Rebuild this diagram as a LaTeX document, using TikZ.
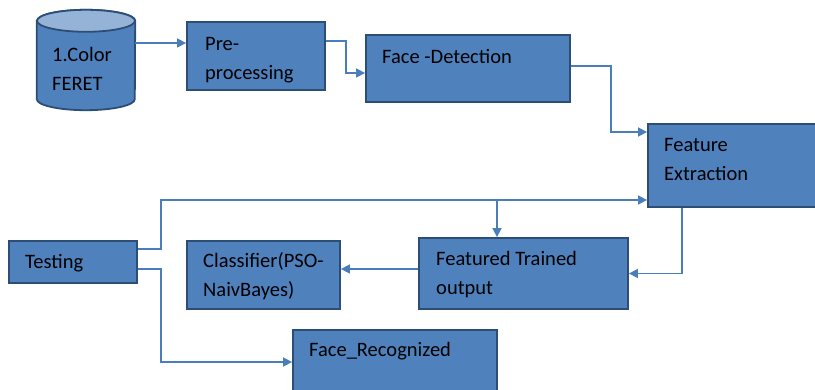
\documentclass[tikz,border=0pt]{standalone}
\usepackage{fontspec}
\setmainfont{Carlito}
\usetikzlibrary{arrows.meta}
\definecolor{boxblue}{HTML}{4F81BD}
\definecolor{boxedge}{HTML}{2C4D75}
\definecolor{lineblue}{HTML}{4A7EBB}
\definecolor{topblue}{HTML}{95B3D7}

\begin{document}
\begin{tikzpicture}[x=1pt, y=-1pt,
	block/.style={draw=boxedge, fill=boxblue, line width=1.8pt, rectangle, inner sep=0pt},
	txt/.style={anchor=base west, inner sep=0pt, align=left, font=\fontsize{20.5}{29}\selectfont},
	conn/.style={draw=lineblue, line width=1.5pt, -{Triangle[length=9pt,width=9pt]}}]
	\clip (0,0) rectangle (815,390);
	% database cylinder
	\node (db) [minimum width=98pt, minimum height=100pt, inner sep=0pt] at (86,60) {};
	\draw[boxedge, line width=1.8pt, fill=boxblue] ([yshift=-11pt]db.north west)
		-- ([yshift=11pt]db.south west) arc[start angle=180, end angle=360, x radius=49pt, y radius=11pt]
		-- ([yshift=-11pt]db.north east) arc[start angle=0, end angle=180, x radius=49pt, y radius=11pt] -- cycle;
	\draw[boxedge, line width=1.8pt, fill=topblue] ([yshift=-11pt]db.north) ellipse[x radius=49pt, y radius=11pt];
	\node (pre)     [block, minimum width=138pt, minimum height=68pt] at (256,56) {};
	\node (det)     [block, minimum width=204pt, minimum height=67pt] at (468,68.5) {};
	\node (feat)    [block, minimum width=240pt, minimum height=83pt] at (768,165.5) {};
	\node (trained) [block, minimum width=209pt, minimum height=71pt] at (523.5,273.5) {};
	\node (cls)     [block, minimum width=153pt, minimum height=68pt] at (263.5,275) {};
	\node (test)    [block, minimum width=128pt, minimum height=42pt] at (73,262) {};
	\node (rec)     [block, minimum width=204pt, minimum height=70pt] at (395,365) {};
	% labels
	\node (db-t)      [txt] at (52,91)  {1.Color\\FERET};
	\node (pre-t)     [txt] at (205,80) {Pre-\\processing};
	\node (det-t)     [txt] at (382,64) {Face -Detection};
	\node (feat-t)    [txt] at (664,181) {Feature\\Extraction};
	\node (trained-t) [txt] at (436,295) {Featured Trained\\output};
	\node (cls-t)     [txt] at (203,297) {Classifier(PSO-\\NaivBayes)};
	\node (test-t)    [txt] at (25,269) {Testing};
	\node (rec-t)     [txt] at (309,357) {Face\_Recognized};
	% connectors
	\draw[conn] ([yshift=17pt]db.east) coordinate (a1) -- (a1 -| pre.west);
	\draw[conn] ([yshift=15pt]pre.east) -- ++(20,0) |- ([yshift=-4.5pt]det.west);
	\draw[conn] ([yshift=2.5pt]det.east) -- ++(40,0) |- ([yshift=33.5pt]feat.west);
	\draw[conn] ([xshift=35pt]feat.south west) |- (trained.east);
	\draw[conn] ([yshift=4.5pt]trained.west) coordinate (b1) -- (b1 -| cls.east);
	\draw[conn] ([yshift=13pt]test.east) -- ++(23,0) |- ([yshift=-34.5pt]feat.west);
	\coordinate (br) at (497,200);
	\draw[conn] (br) -- (br |- trained.north);
	\draw[conn] ([yshift=-7pt]test.east) -- ++(23,0) |- ([yshift=3pt]rec.west);
\end{tikzpicture}
\end{document}
